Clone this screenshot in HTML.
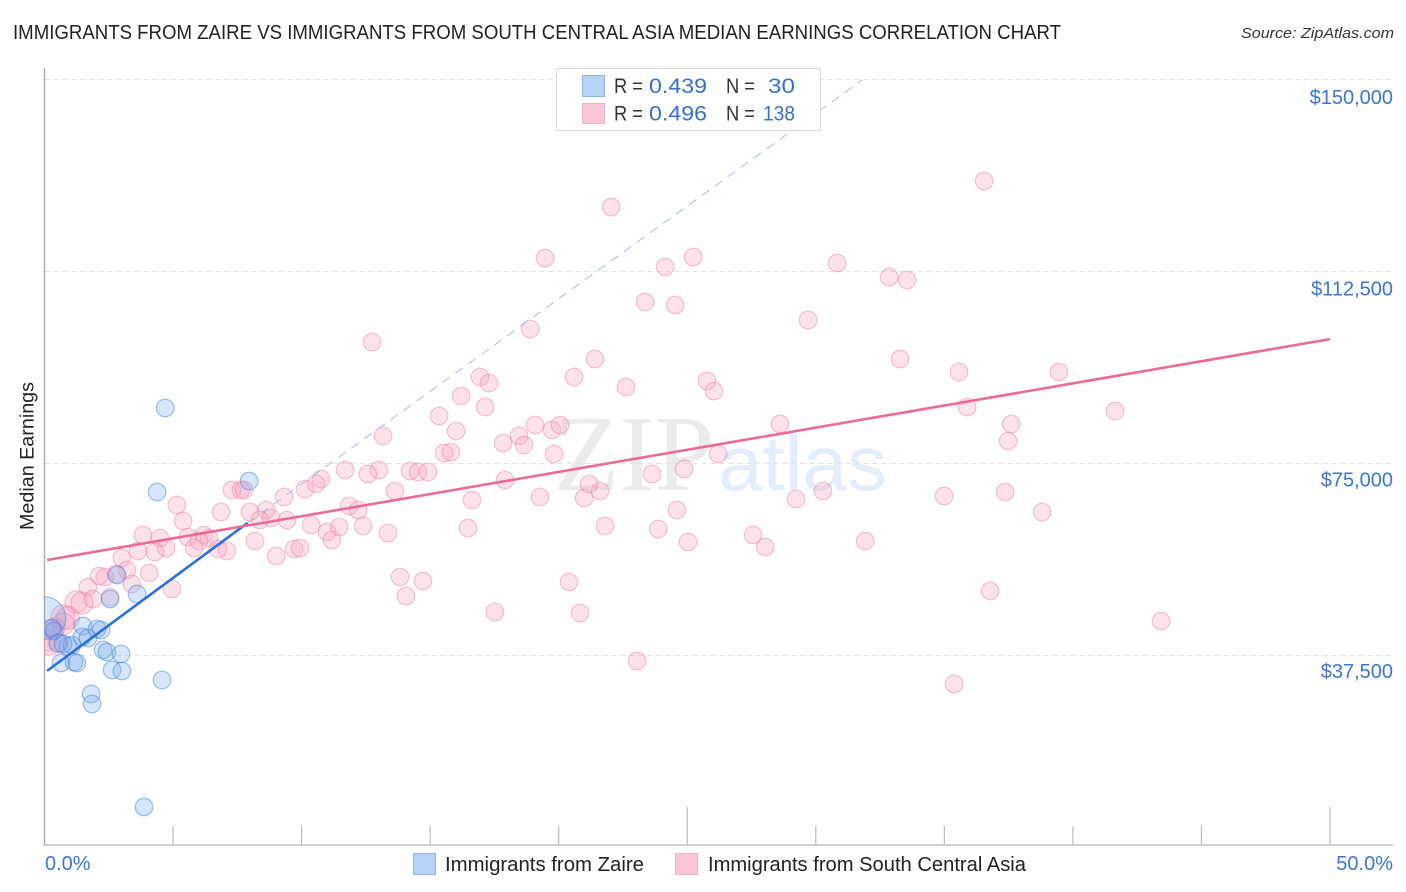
<!DOCTYPE html>
<html lang="en">
<head>
<meta charset="utf-8">
<title>Immigrants from Zaire vs Immigrants from South Central Asia Median Earnings Correlation Chart</title>
<style>
html,body{margin:0;padding:0;background:#fff;width:1406px;height:892px;overflow:hidden}
svg{display:block;font-family:"Liberation Sans",sans-serif}
</style>
</head>
<body>
<svg id="chart" width="1406" height="892" viewBox="0 0 1406 892" xmlns="http://www.w3.org/2000/svg">
  <defs>
    <clipPath id="plot-clip"><rect x="44.5" y="60" width="1349" height="785"/></clipPath>
  </defs>
  <rect x="0" y="0" width="1406" height="892" fill="#fff"/>
  <text x="13" y="39" font-size="20" fill="#222" textLength="1048" lengthAdjust="spacingAndGlyphs">IMMIGRANTS FROM ZAIRE VS IMMIGRANTS FROM SOUTH CENTRAL ASIA MEDIAN EARNINGS CORRELATION CHART</text>
  <text x="1241" y="38" font-size="15" font-style="italic" fill="#333" textLength="153" lengthAdjust="spacingAndGlyphs">Source: ZipAtlas.com</text>
  <text x="554" y="490" font-family="'Liberation Serif',serif" font-size="108" fill="#ebebeb" textLength="160" lengthAdjust="spacingAndGlyphs">ZIP</text>
  <text x="718" y="490" font-size="78" fill="#e3edfb" textLength="169" lengthAdjust="spacingAndGlyphs">atlas</text>
  <g id="grid"></g>
  <g id="axes"></g>
  <g id="south-points" clip-path="url(#plot-clip)"></g>
  <g id="zaire-points" clip-path="url(#plot-clip)"></g>
  <g id="trends"></g>
  <text transform="translate(33.5 456) rotate(-90)" text-anchor="middle" font-size="19" fill="#222" textLength="148" lengthAdjust="spacingAndGlyphs">Median Earnings</text>

  <g>
    <rect x="556.5" y="68.5" width="264" height="62" fill="#fff" stroke="#d9d9d9" stroke-width="1"/>
    <rect x="582.5" y="75.5" width="22" height="21" fill="#b9d3f8" stroke="#8fb4e8" stroke-width="1"/>
    <rect x="582.5" y="103.5" width="22" height="20" fill="#fcc6d9" stroke="#f4b0c8" stroke-width="1"/>
    <g font-size="21" fill="#333">
      <text x="614" y="93" textLength="29" lengthAdjust="spacingAndGlyphs">R =</text>
      <text x="649" y="93" fill="#3470d0" textLength="58" lengthAdjust="spacingAndGlyphs">0.439</text>
      <text x="726" y="93" textLength="29" lengthAdjust="spacingAndGlyphs">N =</text>
      <text x="768" y="93" fill="#3470d0" textLength="27" lengthAdjust="spacingAndGlyphs">30</text>
      <text x="614" y="120.5" textLength="29" lengthAdjust="spacingAndGlyphs">R =</text>
      <text x="649" y="120.5" fill="#3470d0" textLength="58" lengthAdjust="spacingAndGlyphs">0.496</text>
      <text x="726" y="120.5" textLength="29" lengthAdjust="spacingAndGlyphs">N =</text>
      <text x="763" y="120.5" fill="#3470d0" textLength="32" lengthAdjust="spacingAndGlyphs">138</text>
    </g>
  </g>

  <g>
    <rect x="413.5" y="853.5" width="22" height="21" fill="#b9d3f8" stroke="#8fb4e8" stroke-width="1"/>
    <text x="445" y="871" font-size="20" fill="#222" textLength="199" lengthAdjust="spacingAndGlyphs">Immigrants from Zaire</text>
    <rect x="675.5" y="853.5" width="22" height="21" fill="#fcc6d9" stroke="#f4b0c8" stroke-width="1"/>
    <text x="708" y="871" font-size="20" fill="#222" textLength="318" lengthAdjust="spacingAndGlyphs">Immigrants from South Central Asia</text>
  </g>
</svg>
<script>
// Earnings are in thousands of dollars, shares in percent.
const yTickValues = [37.5, 75, 112.5, 150];
const yTickLabels = ["$37,500", "$75,000", "$112,500", "$150,000"];
const xTickValues = [0, 5, 10, 15, 20, 25, 30, 35, 40, 45, 50];
const xEndLabels = ["0.0%", "50.0%"];

const zaireShare = [0,4.69,7.96,4.38,2.82,3.6,2.55,1.5,2.04,2.2,1.46,1.69,0.91,1.07,2.28,2.43,2.98,2.63,3.01,0.64,1.15,1.26,4.57,1.81,1.85,3.87,0.29,0.37,0.53,0.72];
const zaireEarnings = [44.73,85.74,71.48,69.33,53.12,49.41,48.44,43.16,42.58,42.38,41.02,40.82,39.26,39.45,38.48,38.09,37.7,34.57,34.38,35.94,36.13,35.94,32.62,29.88,27.93,7.81,42.77,42.19,39.84,39.65];
const zaireWeight = [5.8];

const southShare = [1.23,1.46,0.72,0.91,0.72,0.41,0.21,0.53,0.21,0.06,36.55,22.04,19.47,24.14,25.23,30.83,32.85,33.55,23.36,24.53,29.7,18.89,12.74,21.41,33.28,35.57,39.46,20.6,16.94,17.29,22.62,25.77,26.04,16.2,17.14,35.89,41.64,15.35,16.01,13.17,19.08,19.74,20.05,28.61,37.6,18.46,17.84,18.65,37.48,15.54,15.81,19.82,26.2,11.69,13.01,12.58,14.22,14.53,14.92,24.88,23.63,17.91,10.76,10.56,13.63,10.13,9.32,7.29,7.64,7.76,16.63,19.27,20.99,21.61,21.18,30.28,29.23,37.36,34.99,38.8,24.6,5.15,6.87,7.99,8.62,8.38,8.81,9.43,11.85,12.2,10.37,10.99,11.46,11.18,12.39,13.36,16.47,21.8,23.87,25.03,27.56,28.03,31.92,5.39,3.83,4.49,5.58,6.2,6.4,6.01,5.82,4.73,4.3,6.75,7.1,8.19,9.71,9.94,9.01,3.64,3.01,4.07,3.21,2.78,2.35,2.12,1.69,3.4,4.96,2.55,1.89,13.83,14.72,14.06,20.4,36.78,17.52,20.83,43.43,23.05,35.38];
const southEarnings = [47.85,47.66,44.92,44.73,43.55,42.77,42.38,39.84,39.45,40.43,130.07,124.99,115.03,113.28,115.23,114.06,111.32,110.74,106.44,105.86,102.93,101.17,98.63,95.31,95.31,92.77,92.77,91.79,91.79,90.62,89.84,91.01,89.06,88.08,85.93,85.93,85.15,84.18,81.25,80.27,82.42,81.44,82.42,82.61,82.61,80.27,78.9,78.51,79.29,76.95,77.15,76.76,76.76,73.63,73.63,72.85,73.44,73.24,73.24,73.83,72.85,71.68,71.87,70.9,69.53,69.92,68.36,69.72,69.72,69.72,67.77,68.36,68.16,69.53,70.9,69.53,67.97,69.33,68.55,65.43,65.82,66.8,65.43,65.43,65.82,63.87,64.26,63.87,66.6,65.82,62.89,61.52,62.5,59.96,62.69,61.33,62.3,62.69,62.11,59.57,60.94,58.59,59.76,63.67,60.94,60.35,60.55,60.94,60.35,59.76,58.4,58.4,57.62,58.2,57.81,59.76,58.2,58.4,56.83,57.81,56.44,53.51,54.1,53.32,52.73,52.93,50.78,51.37,50.39,48.83,48.44,52.73,51.95,49.02,51.76,50,45.9,45.7,44.14,36.33,31.84];
const southWeight = [1.6,1.6,1.9,1.7,1.6,1.3,1.3,1.3,1.3,1.5];

const zaireTrendShare = [0.1, 7.9];
const zaireTrendEarnings = [34.4, 63.3];
const zaireExtensionShare = [7.9, 31.8];
const zaireExtensionEarnings = [63.3, 149.8];
const southTrendShare = [0.1, 50];
const southTrendEarnings = [56.05, 99.2];

const SVGNS = "http://www.w3.org/2000/svg";
const xScale = function (share) { return 44.5 + share * 25.71; };
const yScale = function (earn) { return 655 - (earn - 37.5) * 192 / 37.5; };
const labelY = function (earn) { return 678 - (earn - 37.5) * 191.3 / 37.5; };
const baseRadius = 8.8;

function make(tag, parent, props) {
  const el = document.createElementNS(SVGNS, tag);
  for (const k in props) el.setAttribute(k, props[k]);
  parent.appendChild(el);
  return el;
}

const grid = document.getElementById("grid");
const axes = document.getElementById("axes");

yTickValues.forEach(function (v, i) {
  const line = make("line", grid, {x1: 44.5, x2: 1393, y1: yScale(v) + 0.5, y2: yScale(v) + 0.5, stroke: "#e2e2e2", "stroke-width": 1, "stroke-dasharray": "5 4"});
  
  
  const t = make("text", axes, {x: 1393, y: labelY(v), "text-anchor": "end", "font-size": 20, fill: "#3b76d6"});
  
  
  t.textContent = yTickLabels[i];
});

const yAxis = make("line", axes, {x1: 44.5, x2: 44.5, y1: 68, y2: 845.5, stroke: "#aaa", "stroke-width": 1.4});


const xAxis = make("line", axes, {x1: 44, x2: 1393, y1: 845, y2: 845, stroke: "#b4b4b4", "stroke-width": 1.2});



xTickValues.forEach(function (v) {
  if (v === 0) return;
  const top = (v === 25 || v === 50) ? 807 : 826;
  const tick = make("line", axes, {x1: xScale(v), x2: xScale(v), y1: top, y2: 845, stroke: "#bbb", "stroke-width": 1.2});
  
  
});

const xLabelLeft = make("text", axes, {x: 45, y: 870, "font-size": 20, fill: "#3b76d6"});


xLabelLeft.textContent = xEndLabels[0];
const xLabelRight = make("text", axes, {x: 1393, y: 870, "text-anchor": "end", "font-size": 20, fill: "#3b76d6"});


xLabelRight.textContent = xEndLabels[1];

const southGroup = document.getElementById("south-points");
southShare.forEach(function (s, i) {
  const w = southWeight[i] === undefined ? 1 : southWeight[i];
  const c = make("circle", southGroup, {cx: xScale(s), cy: yScale(southEarnings[i]), r: baseRadius * Math.sqrt(w), fill: "rgba(247,160,188,0.3)", stroke: "rgba(236,120,158,0.42)", "stroke-width": 1.2});
  
  
});

const zaireGroup = document.getElementById("zaire-points");
zaireShare.forEach(function (s, i) {
  const w = zaireWeight[i] === undefined ? 1 : zaireWeight[i];
  const c = make("circle", zaireGroup, {cx: xScale(s), cy: yScale(zaireEarnings[i]), r: baseRadius * Math.sqrt(w), fill: "rgba(112,165,238,0.28)", stroke: "rgba(58,128,222,0.48)", "stroke-width": 1.2});
  
  
});

const trends = document.getElementById("trends");
const ext = make("line", trends, {x1: xScale(zaireExtensionShare[0]), y1: yScale(zaireExtensionEarnings[0]), x2: xScale(zaireExtensionShare[1]), y2: yScale(zaireExtensionEarnings[1]), stroke: "#a5bfe6", "stroke-width": 1, "stroke-dasharray": "9 7"});


const zt = make("line", trends, {x1: xScale(zaireTrendShare[0]), y1: yScale(zaireTrendEarnings[0]), x2: xScale(zaireTrendShare[1]), y2: yScale(zaireTrendEarnings[1]), stroke: "#2a70d8", "stroke-width": 2.6});


const st = make("line", trends, {x1: xScale(southTrendShare[0]), y1: yScale(southTrendEarnings[0]), x2: xScale(southTrendShare[1]), y2: yScale(southTrendEarnings[1]), stroke: "#ec6a97", "stroke-width": 2.6});


</script>
</body>
</html>
